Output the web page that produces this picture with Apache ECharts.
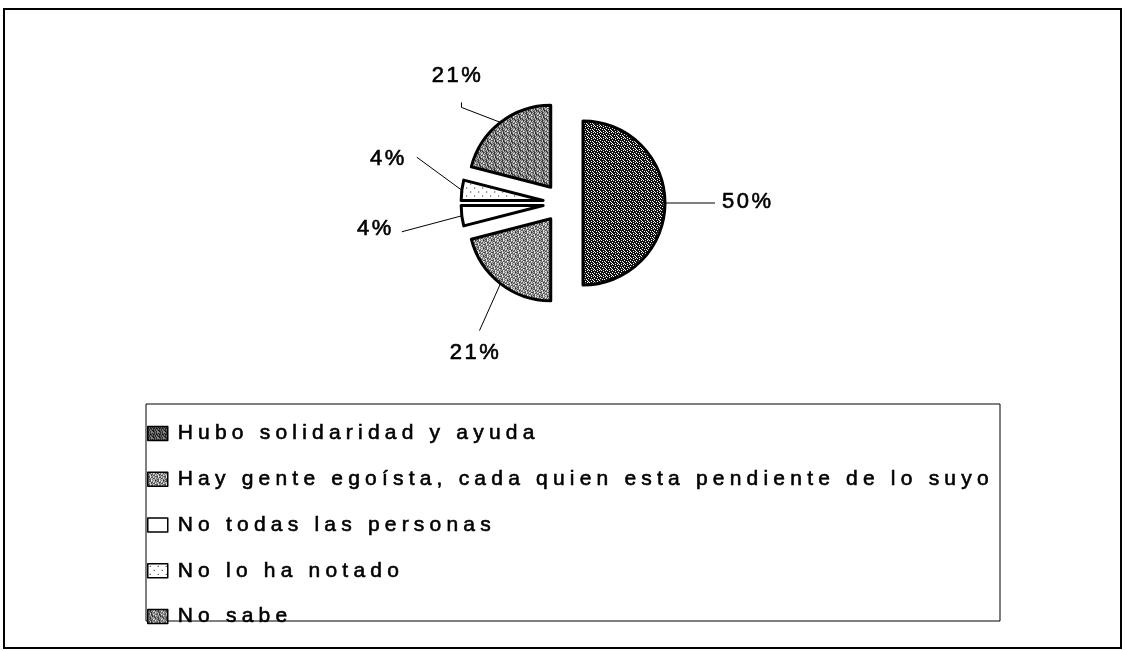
<!DOCTYPE html>
<html>
<head>
<meta charset="utf-8">
<script src="https://cdn.jsdelivr.net/npm/echarts@6/dist/echarts.min.js"></script>
<style>
html,body{margin:0;padding:0;background:#fff;}
#chart{width:1126px;height:651px;}
</style>
</head>
<body>
<div id="chart"></div>
<script>
// ---- data ----
const categories = [
  'Hubo solidaridad y ayuda',
  'Hay gente egoísta, cada quien esta pendiente de lo suyo',
  'No todas las personas',
  'No lo ha notado',
  'No sabe'
];
const values = [50, 21, 4, 4, 21];

// ---- letter spacing (the original text is widely spaced) ----
(function () {
  const proto = CanvasRenderingContext2D.prototype;
  if (!('letterSpacing' in proto)) return;
  const oFill = proto.fillText, oStroke = proto.strokeText, oMeasure = proto.measureText;
  function sp(ctx) {
    const m = /(\d+(?:\.\d+)?)px/.exec(ctx.font || '');
    const s = m ? parseFloat(m[1]) : 12;
    ctx.letterSpacing = s === 21 ? '5.2px' : (s === 22 ? '2.5px' : '0px');
  }
  proto.fillText = function (t, x, y, w) { sp(this); return w === undefined ? oFill.call(this, t, x, y) : oFill.call(this, t, x, y, w); };
  proto.strokeText = function (t, x, y, w) { sp(this); return w === undefined ? oStroke.call(this, t, x, y) : oStroke.call(this, t, x, y, w); };
  proto.measureText = function (t) { sp(this); return oMeasure.call(this, t); };
})();

// ---- texture tiles (style only) ----
function tile(rows, fg, bg) {
  const c = document.createElement('canvas');
  c.width = rows[0].length; c.height = rows.length;
  const ctx = c.getContext('2d');
  ctx.fillStyle = bg; ctx.fillRect(0, 0, c.width, c.height);
  ctx.fillStyle = fg;
  rows.forEach((r, y) => { for (let x = 0; x < r.length; x++) if (r[x] === '#') ctx.fillRect(x, y, 1, 1); });
  return { image: c, repeat: 'repeat' };
}
const texGrid = tile([
  '###.#.',
  '#.####',
  '####.#',
  '.#.###',
  '###.##',
  '#.##.#'
], '#111', '#fff');
const texStipA = tile([
  '#.#..#.#',
  '.##.#..#',
  '#..##.#.',
  '.#.#.##.',
  '##..#..#',
  '.#.##.#.',
  '#.#..##.',
  '.##.#..#'
], '#222', '#fff');
const texStipB = tile([
  '#.##.#.#',
  '.##.#..#',
  '#.###.#.',
  '.#.#.##.',
  '##.##..#',
  '.#.##.#.',
  '#.#.###.',
  '.##.#.##'
], '#222', '#fff');
const texDots = tile([
  '........',
  '........',
  '..#.....',
  '........',
  '........',
  '........',
  '......#.',
  '........'
], '#000', '#fff');
const fills = [texGrid, texStipA, '#ffffff', texDots, texStipB];

// ---- layout / style constants ----
const CENTER = [563, 203];
const RADIUS = 82;
const EXPLODE = 20;
// label guide: first segment vector from the exploded slice edge, optional hook, label offset from line end
const guideVec = [[50, 0], [-21, 47], [-60, 16], [-45, -33], [-39, -15]];
const guideHook = [[0, 0], [0, 0], [0, 0], [0, 0], [0, -5]];
const labelOff = [[7, -1], [-4, 22], [-8, -3], [-10, 2], [-4, -26]];
const labelAlign = ['left', 'center', 'right', 'right', 'center'];

const font = "'Liberation Sans', Arial, sans-serif";

const chart = echarts.init(document.getElementById('chart'), null, { renderer: 'canvas' });
chart.setOption({
  animation: false,
  backgroundColor: '#fff',
  graphic: [
    { type: 'rect', shape: { x: 4, y: 9, width: 1117, height: 639 }, style: { fill: 'none', stroke: '#000', lineWidth: 2 }, silent: true },
    { type: 'rect', shape: { x: 146, y: 404, width: 854, height: 217 }, style: { fill: 'none', stroke: '#000', lineWidth: 1 }, silent: true }
  ],
  legend: {
    orient: 'vertical',
    left: 147,
    top: 420,
    padding: 0,
    itemGap: 19,
    itemWidth: 20,
    itemHeight: 14,
    icon: 'rect',
    selectedMode: false,
    itemStyle: { borderColor: '#000', borderWidth: 1.5 },
    textStyle: { fontFamily: font, fontSize: 21, lineHeight: 21, color: '#000', textBorderColor: '#000', textBorderWidth: 0.6, padding: [0, 0, 0, 5] },
    data: categories
  },
  series: [
    {
      // exploded slices
      type: 'pie',
      center: CENTER,
      radius: RADIUS,
      startAngle: 90,
      clockwise: true,
      selectedMode: 'multiple',
      selectedOffset: EXPLODE,
      silent: true,
      itemStyle: { borderColor: '#000', borderWidth: 3 },
      label: { show: false },
      labelLine: { show: false },
      data: categories.map((name, i) => ({
        name: name,
        value: values[i],
        selected: true,
        itemStyle: { color: fills[i] }
      }))
    },
    {
      // percentage labels with guide lines (invisible sectors)
      type: 'pie',
      center: CENTER,
      radius: RADIUS,
      startAngle: 90,
      clockwise: true,
      silent: true,
      avoidLabelOverlap: false,
      itemStyle: { color: 'rgba(0,0,0,0)', borderWidth: 0 },
      label: { show: true, position: 'outside', formatter: '{c}%', fontFamily: font, fontSize: 22, color: '#000', textBorderColor: '#000', textBorderWidth: 0.6 },
      labelLine: { show: true, length: 10, length2: 0, lineStyle: { color: '#000', width: 1 } },
      labelLayout: function (params) {
        const i = params.dataIndex;
        const pts = params.labelLinePoints;
        if (!pts) return {};
        const p0 = pts[0];
        const vx = p0[0] - CENTER[0], vy = p0[1] - CENTER[1];
        const len = Math.sqrt(vx * vx + vy * vy) || 1;
        const a = [p0[0] + vx / len * EXPLODE, p0[1] + vy / len * EXPLODE];
        const mid = [a[0] + guideVec[i][0], a[1] + guideVec[i][1]];
        const end = [mid[0] + guideHook[i][0], mid[1] + guideHook[i][1]];
        return {
          x: end[0] + labelOff[i][0],
          y: end[1] + labelOff[i][1],
          align: labelAlign[i],
          verticalAlign: 'middle',
          labelLinePoints: [a, mid, end]
        };
      },
      data: categories.map((name, i) => ({ name: name, value: values[i] }))
    }
  ]
});
</script>
</body>
</html>
